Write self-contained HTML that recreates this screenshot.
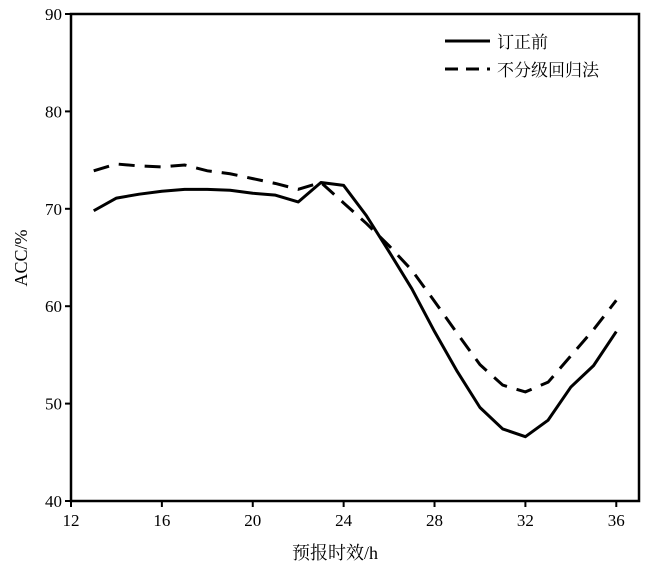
<!DOCTYPE html>
<html><head><meta charset="utf-8"><style>
body{margin:0;background:#fff;}
text{font-family:"Liberation Serif","Noto Serif CJK SC","Noto Sans CJK SC",serif;fill:#000;}
</style></head><body>
<svg width="650" height="572" viewBox="0 0 650 572">
<g id="axes"></g>
<g id="series"></g>
<g>
<line x1="445" y1="41" x2="490" y2="41" stroke="#000" stroke-width="3"/>
<text x="497" y="48" font-size="17">订正前</text>
<line x1="445" y1="69" x2="490" y2="69" stroke="#000" stroke-width="3" stroke-dasharray="13,8"/>
<text x="497" y="76" font-size="17">不分级回归法</text>
</g>
<text x="335" y="559" font-size="18" text-anchor="middle">预报时效/h</text>
<text transform="translate(27,258) rotate(-90)" font-size="18" text-anchor="middle">ACC/%</text>
</svg>
<script>
const hours=[13,14,15,16,17,18,19,20,21,22,23,24,25,26,27,28,29,30,31,32,33,34,35,36];
const accBefore=[69.8,71.1,71.5,71.8,72.0,72.0,71.9,71.6,71.4,70.7,72.7,72.4,69.3,65.6,61.8,57.4,53.3,49.6,47.4,46.6,48.3,51.7,53.9,57.4];
const accRegression=[73.9,74.6,74.4,74.3,74.5,73.9,73.6,73.1,72.6,72.0,72.7,70.6,68.5,66.2,63.7,60.5,57.2,54.0,51.9,51.2,52.2,54.9,57.6,60.6];
const xTicks=[12,16,20,24,28,32,36];
const yTicks=[40,50,60,70,80,90];
const NS="http://www.w3.org/2000/svg";
const L=71,R=639,T=14,B=501;
const xs=v=>L+(v-12)*(R-L)/25;
const ys=v=>B-(v-40)*(B-T)/50;
const axes=document.getElementById('axes');
function mk(tag,attrs,parent){const e=document.createElementNS(NS,tag);for(const k in attrs)e.setAttribute(k,attrs[k]);parent.appendChild(e);return e;}
const frame=mk('rect',{x:L,y:T,width:R-L,height:B-T,fill:'none',stroke:'#000','stroke-width':2.5},axes);


xTicks.forEach(t=>{
 const l=mk('line',{x1:xs(t),x2:xs(t),y1:B,y2:B+6,stroke:'#000','stroke-width':2},axes);
 
 
 const tx=mk('text',{x:xs(t),y:B+25,'font-size':17,'text-anchor':'middle'},axes);
 tx.textContent=t;
 
 
});
yTicks.forEach(t=>{
 const l=mk('line',{x1:L-6,x2:L,y1:ys(t),y2:ys(t),stroke:'#000','stroke-width':2},axes);
 
 
 const tx=mk('text',{x:L-9,y:ys(t)+6,'font-size':17,'text-anchor':'end'},axes);
 tx.textContent=t;
 
 
});
const series=document.getElementById('series');
function pts(a){return hours.map((h,i)=>xs(h)+','+ys(a[i])).join(' ');}
const p1=mk('polyline',{points:pts(accBefore),fill:'none',stroke:'#000','stroke-width':3,'stroke-linejoin':'round'},series);


const p2=mk('polyline',{points:pts(accRegression),fill:'none',stroke:'#000','stroke-width':3,'stroke-dasharray':'16,10'},series);


</script>
</body></html>
